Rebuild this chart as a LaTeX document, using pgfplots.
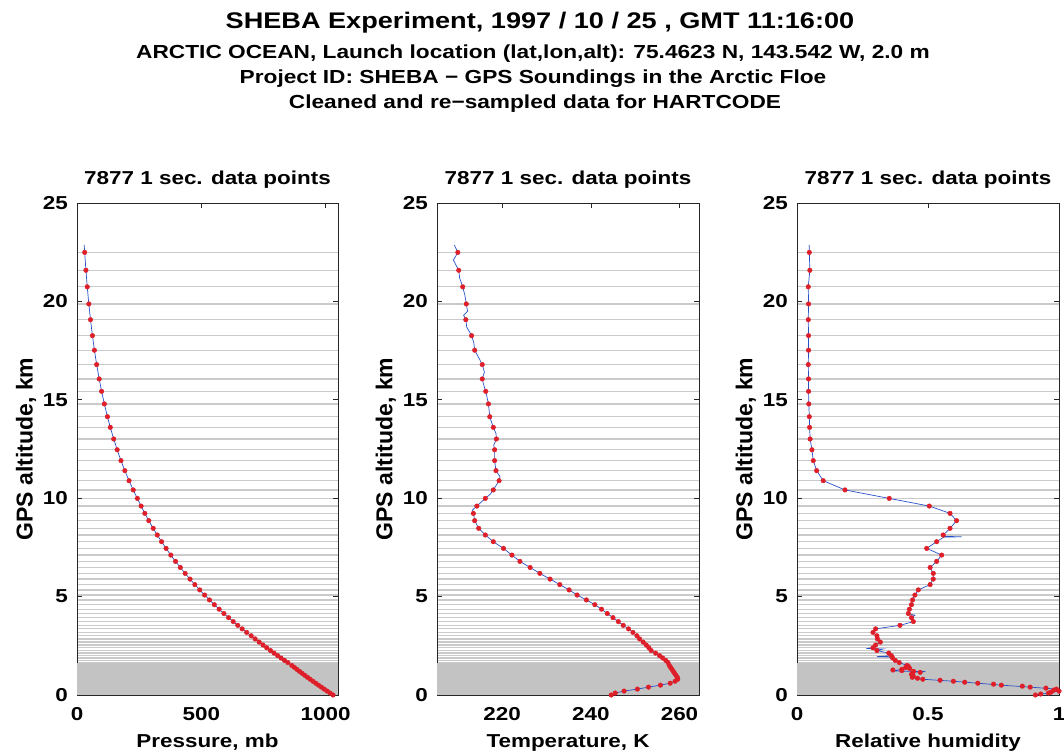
\documentclass[border=0pt]{standalone}
\usepackage{fontspec}
\setmainfont{Liberation Sans}[FakeStretch=1.2]
\newfontfamily\rotfont{Liberation Sans}
\usepackage{pgfplots}
\usepackage{pgfplotstable}
\pgfplotsset{compat=1.18}
\definecolor{mred}{RGB}{222,30,40}
\definecolor{mblue}{RGB}{40,80,200}
\definecolor{gline}{RGB}{202,202,202}
\definecolor{gfill}{RGB}{195,195,195}

\pgfplotstableread{
z p
22.87 29.0
22.49 30.9
21.58 35.9
20.74 41.2
19.87 47.6
19.07 54.3
18.26 62.1
17.52 70.1
16.79 79.1
16.06 89.2
15.43 99.0
14.79 110.0
14.14 122.5
13.60 133.9
13.01 147.6
12.46 161.6
11.91 176.9
11.40 192.5
10.89 209.4
10.42 226.3
9.99 242.8
9.60 257.8
9.23 272.9
8.86 288.8
8.47 306.5
8.13 322.9
7.79 340.1
7.45 358.3
7.11 377.4
6.79 396.3
6.48 415.6
6.18 435.1
5.89 454.6
5.61 474.1
5.34 493.7
5.08 513.3
4.83 532.9
4.59 552.4
4.36 571.8
4.14 591.0
3.93 609.9
3.73 628.5
3.54 646.7
3.36 664.4
3.18 682.6
3.01 700.6
2.85 716.6
2.69 732.8
2.54 748.4
2.40 763.2
2.26 778.3
2.13 792.6
2.00 807.2
1.88 820.8
1.76 834.7
1.65 848.2
1.50 864.3
1.40 874.5
1.30 884.8
1.20 895.2
1.10 905.7
1.00 916.4
0.90 927.2
0.80 938.1
0.70 949.1
0.60 960.3
0.50 971.6
0.40 983.1
0.30 994.6
0.20 1006.3
0.10 1018.1
0.00 1030.0
}\pres

\pgfplotstableread{
z T
22.49 210.0
21.58 210.2
20.74 211.1
19.87 211.9
19.07 211.8
18.26 213.1
17.52 213.8
16.79 215.5
16.06 215.5
15.43 216.3
14.79 216.9
14.14 217.2
13.60 218.0
13.01 218.7
12.46 218.3
11.91 218.3
11.40 218.6
10.89 219.3
10.42 218.0
9.99 216.2
9.60 214.3
9.23 213.5
8.86 213.8
8.47 214.7
8.13 216.2
7.79 218.0
7.45 220.3
7.11 222.2
6.79 224.0
6.48 226.3
6.18 228.5
5.89 230.8
5.61 233.0
5.34 235.1
5.08 236.9
4.83 239.0
4.59 240.9
4.36 242.4
4.14 243.7
3.93 245.0
3.73 246.2
3.54 247.3
3.36 248.5
3.18 249.5
3.01 250.4
2.85 251.0
2.69 251.8
2.54 252.5
2.40 253.1
2.26 253.6
2.13 254.6
2.00 255.5
1.88 256.2
1.76 256.9
1.65 257.4
1.50 257.7
1.40 258.0
1.30 258.3
1.20 258.6
1.10 258.9
1.00 259.2
0.90 259.5
0.80 259.6
0.70 259.0
0.60 257.9
0.50 255.7
0.40 253.0
0.30 250.5
0.20 247.5
0.10 245.5
0.00 244.6
}\tempred

\pgfplotstableread{
z T
22.87 209.2
22.49 210.0
22.10 209.0
21.58 210.2
21.20 210.4
20.74 211.1
20.30 211.6
19.87 211.9
19.50 212.2
19.30 211.3
19.07 211.8
18.70 212.0
18.26 213.1
17.90 213.6
17.52 213.8
17.10 214.8
16.79 215.5
16.40 216.0
16.06 215.5
15.70 215.9
15.43 216.3
14.79 216.9
14.14 217.2
13.60 218.0
13.30 218.6
13.01 218.7
12.70 218.1
12.46 218.3
11.91 218.3
11.40 218.6
11.10 219.5
10.89 219.3
10.42 218.0
10.20 217.3
9.99 216.2
9.60 214.3
9.40 213.3
9.23 213.5
8.86 213.8
8.47 214.7
8.13 216.2
7.79 218.0
7.45 220.3
7.11 222.2
6.79 224.0
6.48 226.3
6.18 228.5
5.89 230.8
5.61 233.0
5.34 235.1
5.08 236.9
4.83 239.0
4.59 240.9
4.36 242.4
4.14 243.7
3.93 245.0
3.73 246.2
3.54 247.3
3.36 248.5
3.18 249.5
3.01 250.4
2.85 251.0
2.69 251.8
2.54 252.5
2.40 253.1
2.26 253.6
2.13 254.6
2.00 255.5
1.88 256.2
1.76 256.9
1.65 257.4
1.50 257.7
1.40 258.0
1.30 258.3
1.20 258.6
1.10 258.9
1.00 259.2
0.90 259.5
0.80 259.6
0.70 259.0
0.60 257.9
0.50 255.7
0.40 253.0
0.30 250.5
0.20 247.5
0.10 245.5
0.00 244.6
}\tempblue

\pgfplotstableread{
z rh
22.49 0.047
21.58 0.049
20.74 0.043
19.87 0.044
19.07 0.043
18.26 0.044
17.52 0.044
16.79 0.043
16.06 0.044
15.43 0.044
14.79 0.045
14.14 0.047
13.60 0.048
13.01 0.050
12.46 0.057
11.91 0.062
11.40 0.075
10.89 0.100
10.42 0.183
9.99 0.352
9.60 0.505
9.23 0.584
8.86 0.609
8.47 0.584
8.13 0.558
7.79 0.533
7.45 0.495
7.11 0.552
6.79 0.533
6.48 0.508
6.18 0.520
5.89 0.520
5.61 0.508
5.34 0.463
5.08 0.450
4.83 0.441
4.59 0.437
4.36 0.429
4.14 0.425
3.93 0.437
3.73 0.444
3.54 0.393
3.36 0.300
3.18 0.290
3.01 0.305
2.85 0.307
2.69 0.318
2.54 0.300
2.40 0.290
2.26 0.305
2.13 0.350
2.00 0.360
1.88 0.365
1.76 0.375
1.65 0.390
1.50 0.420
1.45 0.425
1.40 0.415
1.35 0.430
1.30 0.400
1.27 0.366
1.24 0.400
1.20 0.445
1.15 0.470
1.10 0.440
1.05 0.437
1.00 0.440
0.95 0.444
0.90 0.440
0.85 0.460
0.80 0.480
0.75 0.546
0.70 0.597
0.65 0.640
0.60 0.690
0.55 0.750
0.50 0.780
0.45 0.860
0.40 0.890
0.35 0.950
0.30 0.990
0.25 0.980
0.20 1.000
0.15 0.970
0.10 0.960
0.05 0.930
0.00 0.910
}\rhred

\pgfplotstableread{
z rh
22.87 0.047
22.49 0.047
21.58 0.049
20.74 0.043
19.87 0.044
19.07 0.043
18.26 0.044
17.52 0.044
16.79 0.043
16.06 0.044
15.43 0.044
14.79 0.045
14.14 0.047
13.60 0.048
13.01 0.050
12.46 0.057
11.91 0.062
11.40 0.075
10.89 0.100
10.42 0.183
9.99 0.352
9.60 0.505
9.23 0.584
8.86 0.609
8.47 0.584
8.13 0.558
8.06 0.560
8.04 0.628
8.02 0.560
7.79 0.533
7.45 0.495
7.11 0.552
6.79 0.533
6.48 0.508
6.18 0.520
5.89 0.520
5.61 0.508
5.34 0.463
5.08 0.450
4.83 0.441
4.59 0.437
4.36 0.429
4.14 0.425
4.05 0.450
3.93 0.437
3.73 0.444
3.54 0.393
3.36 0.300
3.18 0.290
3.01 0.305
2.85 0.307
2.69 0.318
2.54 0.300
2.40 0.290
2.36 0.265
2.34 0.330
2.26 0.305
2.13 0.350
2.00 0.360
1.95 0.305
1.93 0.360
1.88 0.365
1.76 0.375
1.65 0.390
1.50 0.420
1.40 0.415
1.30 0.400
1.22 0.360
1.19 0.490
1.16 0.440
1.10 0.440
1.00 0.440
0.90 0.440
0.80 0.480
0.70 0.597
0.60 0.690
0.50 0.780
0.40 0.890
0.30 0.990
0.20 1.000
0.10 0.960
0.00 0.910
}\rhblue

\pgfplotsset{
  sheba/.style={
    set layers,
    scale only axis,
    height=492pt,
    ymin=0, ymax=25, ytick={0,5,10,15,20,25},
    tick align=inside,
    major tick length=5pt,
    every tick/.style={black!85, line width=0.6pt},
    axis line style={black!85, line width=0.8pt},
    /pgf/number format/assume math mode=true,
    /pgf/number format/1000 sep={},
    tick label style={font=\bfseries\fontsize{18.7}{20}\selectfont},
    yticklabel style={anchor=east, inner sep=0pt, xshift=-9pt},
    xticklabel style={anchor=north, inner sep=0pt, yshift=-12pt},
    extra y ticks={22.49,21.58,20.74,19.87,19.07,18.26,17.52,16.79,16.06,15.43,14.79,14.14,13.60,13.01,12.46,11.91,11.40,10.89,10.42,9.99,9.60,9.23,8.86,8.47,8.13,7.79,7.45,7.11,6.79,6.48,6.18,5.89,5.61,5.34,5.08,4.83,4.59,4.36,4.14,3.93,3.73,3.54,3.36,3.18,3.01,2.85,2.69,2.54,2.40,2.26,2.13,2.00,1.88,1.76,1.65},
    extra y tick labels={},
    extra y tick style={grid=major, tick style={draw=none}, major grid style={gline, line width=1.2pt}},
    every axis title/.style={at={(axis description cs:0.5,1.0386)}, anchor=base, font=\bfseries\fontsize{18.7}{20}\selectfont},
    every axis x label/.style={at={(axis description cs:0.5,-0.1057)}, anchor=base, font=\bfseries\fontsize{18.7}{20}\selectfont},
    every axis y label/.style={at={(axis description cs:-0.17,0.5)}, rotate=90, anchor=base, font=\rotfont\bfseries\fontsize{23}{25}\selectfont},
    ylabel={GPS altitude, km},
    title={7877 1 sec. data points},
  },
  redm/.style={only marks, mark=*, mark size=2.3pt, color=mred, mark options={draw=mred, fill=mred}},
  bluel/.style={mblue, line width=0.7pt, mark=none},
}

\begin{document}
\begin{tikzpicture}

\node[anchor=base, font=\bfseries\fontsize{22.6}{24}\selectfont] at (540pt,726pt) {SHEBA Experiment, 1997 / 10 / 25 , GMT 11:16:00};
\node[anchor=base, font=\bfseries\fontsize{18.9}{20}\selectfont] at (533pt,696pt) {ARCTIC OCEAN, Launch location (lat,lon,alt): 75.4623 N, 143.542 W, 2.0 m};
\node[anchor=base, font=\bfseries\fontsize{18.9}{20}\selectfont] at (533pt,671pt) {Project ID: SHEBA − GPS Soundings in the Arctic Floe};
\node[anchor=base, font=\bfseries\fontsize{18.9}{20}\selectfont] at (535pt,646pt) {Cleaned and re−sampled data for HARTCODE};

\begin{axis}[sheba, at={(77pt,60pt)}, anchor=south west, width=261pt,
  xmin=0, xmax=1050, xtick={0,500,1000}, xlabel={Pressure, mb}]
  \addplot[fill=gfill, draw=none] coordinates {(0,1.65) (1050,1.65)} \closedcycle;
  \addplot[bluel] table[x=p, y=z] {\pres};
  \addplot[redm, skip coords between index={0}{1}] table[x=p, y=z] {\pres};
\end{axis}

\begin{axis}[sheba, at={(437pt,60pt)}, anchor=south west, width=262pt,
  xmin=205.3, xmax=264.4, xtick={220,240,260}, xlabel={Temperature, K}]
  \addplot[fill=gfill, draw=none] coordinates {(205.3,1.65) (264.4,1.65)} \closedcycle;
  \addplot[bluel] table[x=T, y=z] {\tempblue};
  \addplot[redm] table[x=T, y=z] {\tempred};
\end{axis}

\begin{axis}[sheba, at={(797pt,60pt)}, anchor=south west, width=262pt,
  xmin=0, xmax=1, xtick={0,0.5,1}, xlabel={Relative humidity}]
  \addplot[fill=gfill, draw=none] coordinates {(0,1.65) (1,1.65)} \closedcycle;
  \addplot[bluel] table[x=rh, y=z] {\rhblue};
  \addplot[redm] table[x=rh, y=z] {\rhred};
\end{axis}

\pgfresetboundingbox
\path[use as bounding box] (0,0) rectangle (1064pt,755pt);
\end{tikzpicture}
\end{document}
